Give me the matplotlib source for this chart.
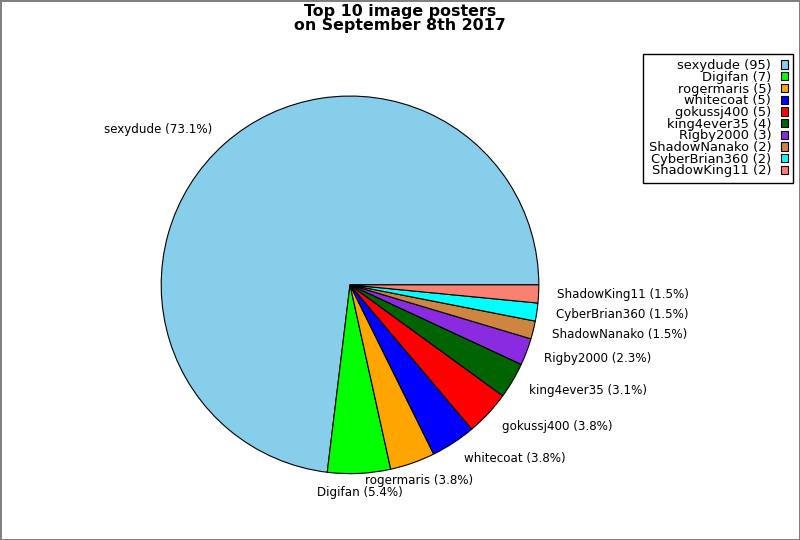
import matplotlib
matplotlib.use("Agg")
import matplotlib.pyplot as plt
import numpy as np

# posters and their image counts
names = ["sexydude", "Digifan", "rogermaris", "whitecoat", "gokussj400",
         "king4ever35", "Rigby2000", "ShadowNanako", "CyberBrian360", "ShadowKing11"]
counts = [95, 7, 5, 5, 5, 4, 3, 2, 2, 2]
colors = ["skyblue", "lime", "orange", "blue", "red",
          "darkgreen", "blueviolet", "peru", "cyan", "salmon"]

total = sum(counts)
pie_labels = ["%s (%.1f%%)" % (n, 100.0 * c / total) for n, c in zip(names, counts)]
legend_labels = ["%s (%d)" % (n, c) for n, c in zip(names, counts)]

fig = plt.figure(figsize=(8, 5.4), dpi=100, edgecolor="gray", linewidth=2)
ax = fig.add_axes([0.1425, 0.035, 0.59, 0.875])

wedges, texts = ax.pie(counts, labels=pie_labels, colors=colors, startangle=0,
                       wedgeprops={"edgecolor": "black", "linewidth": 0.8},
                       textprops={"fontsize": 8.6})
ax.set_aspect("equal")

# labels near the bottom of the pie sit centred under their wedge
for w, t in zip(wedges, texts):
    mid = np.deg2rad((w.theta1 + w.theta2) / 2)
    if abs(np.cos(mid)) < 0.4:
        t.set_ha("center")

fig.suptitle("Top 10 image posters\non September 8th 2017", fontsize=11.4,
             fontweight="bold", y=0.992, linespacing=0.9)

leg = fig.legend(wedges, legend_labels, loc="upper right",
                 bbox_to_anchor=(0.991, 0.9), borderaxespad=0,
                 markerfirst=False, fancybox=False, edgecolor="black",
                 framealpha=1, fontsize=9.4, labelspacing=-0.1,
                 handlelength=0.5, handleheight=0.6, handletextpad=0.75,
                 borderpad=0.4)
leg.get_frame().set_linewidth(1)

fig.savefig("out.png", dpi=100, edgecolor=fig.get_edgecolor())
